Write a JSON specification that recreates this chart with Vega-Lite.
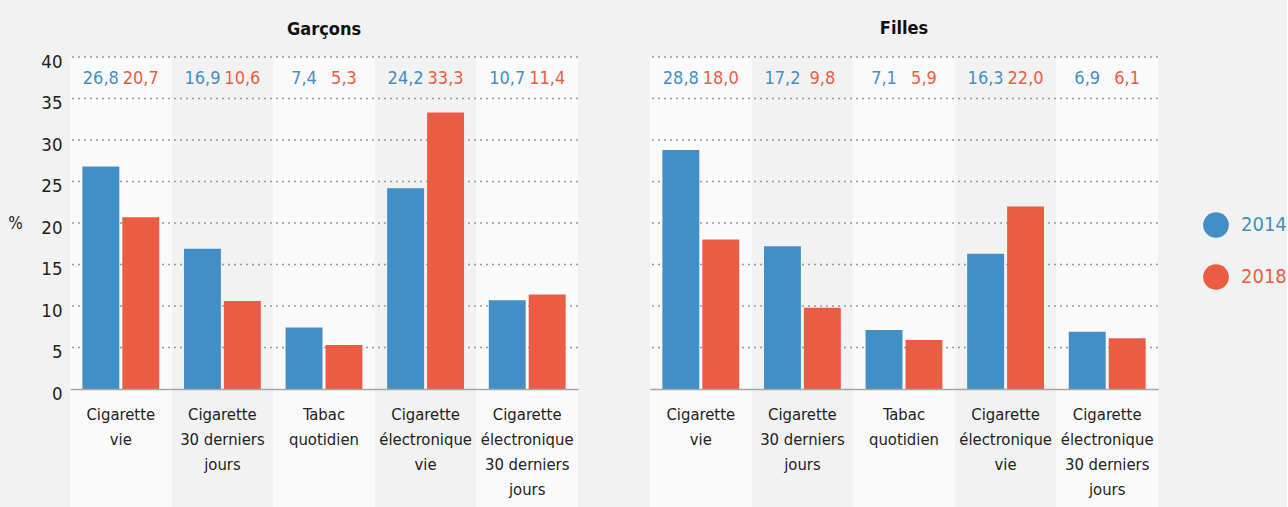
{
  "$schema": "https://vega.github.io/schema/vega-lite/v6.json",
  "background": "#f2f2f2",
  "padding": {"left": 7, "top": 20, "right": 0, "bottom": 0},
  "spacing": 70,
  "config": {
    "locale": {"number": {"decimal": ",", "thousands": " ", "grouping": [3], "currency": ["", " €"]}},
    "font": "Liberation Sans Narrow, DejaVu Sans Condensed, Roboto Condensed, Roboto, sans-serif",
    "view": {"stroke": null},
    "title": {"fontSize": 18, "fontWeight": "bold", "color": "#111111", "offset": 18, "anchor": "middle", "frame": "group"},
    "axisX": {"labelAngle": 0, "labelFontSize": 16.5, "labelColor": "#222222", "labelLineHeight": 25, "labelPadding": 17, "labelBaseline": "top", "ticks": false, "domainColor": "#a6a6a6", "domainWidth": 1.5, "grid": false, "zindex": 1, "labelLimit": 300},
    "axisY": {"labelFontSize": 18.5, "labelColor": "#222222", "ticks": false, "domain": false, "grid": false, "labelPadding": 8, "labelOffset": 4, "titleAngle": 0, "titleFontSize": 17, "titleFontWeight": "normal", "titleColor": "#222222", "titleX": -55, "titleY": 166, "titleAlign": "center", "titleBaseline": "middle"}
  },
  "datasets": {
    "taux": [
      {"sexe": "Garçons", "categorie": "Cigarette vie", "annee": "2014", "valeur": 26.8},
      {"sexe": "Garçons", "categorie": "Cigarette vie", "annee": "2018", "valeur": 20.7},
      {"sexe": "Garçons", "categorie": "Cigarette 30 derniers jours", "annee": "2014", "valeur": 16.9},
      {"sexe": "Garçons", "categorie": "Cigarette 30 derniers jours", "annee": "2018", "valeur": 10.6},
      {"sexe": "Garçons", "categorie": "Tabac quotidien", "annee": "2014", "valeur": 7.4},
      {"sexe": "Garçons", "categorie": "Tabac quotidien", "annee": "2018", "valeur": 5.3},
      {"sexe": "Garçons", "categorie": "Cigarette électronique vie", "annee": "2014", "valeur": 24.2},
      {"sexe": "Garçons", "categorie": "Cigarette électronique vie", "annee": "2018", "valeur": 33.3},
      {"sexe": "Garçons", "categorie": "Cigarette électronique 30 derniers jours", "annee": "2014", "valeur": 10.7},
      {"sexe": "Garçons", "categorie": "Cigarette électronique 30 derniers jours", "annee": "2018", "valeur": 11.4},
      {"sexe": "Filles", "categorie": "Cigarette vie", "annee": "2014", "valeur": 28.8},
      {"sexe": "Filles", "categorie": "Cigarette vie", "annee": "2018", "valeur": 18.0},
      {"sexe": "Filles", "categorie": "Cigarette 30 derniers jours", "annee": "2014", "valeur": 17.2},
      {"sexe": "Filles", "categorie": "Cigarette 30 derniers jours", "annee": "2018", "valeur": 9.8},
      {"sexe": "Filles", "categorie": "Tabac quotidien", "annee": "2014", "valeur": 7.1},
      {"sexe": "Filles", "categorie": "Tabac quotidien", "annee": "2018", "valeur": 5.9},
      {"sexe": "Filles", "categorie": "Cigarette électronique vie", "annee": "2014", "valeur": 16.3},
      {"sexe": "Filles", "categorie": "Cigarette électronique vie", "annee": "2018", "valeur": 22.0},
      {"sexe": "Filles", "categorie": "Cigarette électronique 30 derniers jours", "annee": "2014", "valeur": 6.9},
      {"sexe": "Filles", "categorie": "Cigarette électronique 30 derniers jours", "annee": "2018", "valeur": 6.1}
    ],
    "grille": [{"v": 5}, {"v": 10}, {"v": 15}, {"v": 20}, {"v": 25}, {"v": 30}, {"v": 35}, {"v": 40}]
  },
  "hconcat": [
    {
      "title": {"text": "Garçons", "offset": 13},
      "width": 508,
      "height": 332,
      "layer": [
        {
          "data": {"name": "taux"},
          "transform": [{"filter": "datum.sexe == 'Garçons'"}, {"filter": {"field": "categorie", "oneOf": ["Cigarette vie", "Tabac quotidien", "Cigarette électronique 30 derniers jours"]}}],
          "mark": {"type": "rect", "fill": "#fafafa"},
          "encoding": {
            "x": {"field": "categorie", "type": "nominal", "scale": {"domain": ["Cigarette vie", "Cigarette 30 derniers jours", "Tabac quotidien", "Cigarette électronique vie", "Cigarette électronique 30 derniers jours"], "paddingInner": 0, "paddingOuter": 0}, "axis": {"title": null, "zindex": 1, "labelExpr": "split(replace(replace(replace(replace(datum.label, 'Cigarette ', 'Cigarette|'), 'électronique ', 'électronique|'), ' jours', '|jours'), 'Tabac ', 'Tabac|'), '|')"}},
            "y": {"datum": 40, "type": "quantitative", "scale": {"domain": [0, 40], "nice": false}, "axis": {"title": "%"}},
            "y2": {"datum": -14.5}
          }
        },
        {
          "data": {"name": "grille"},
          "mark": {"type": "rule", "stroke": "#9a9a9a", "strokeDash": [2, 4], "strokeWidth": 1.3},
          "encoding": {"y": {"field": "v", "type": "quantitative", "axis": {"title": "%"}}}
        },
        {
          "data": {"name": "taux"},
          "transform": [{"filter": "datum.sexe == 'Garçons'"}],
          "mark": {"type": "bar"},
          "encoding": {
            "x": {"field": "categorie", "type": "nominal", "axis": {"title": null, "zindex": 1}},
            "xOffset": {"field": "annee", "type": "nominal", "scale": {"paddingInner": 0.075, "paddingOuter": 0.31}},
            "y": {"field": "valeur", "type": "quantitative", "axis": {"title": "%"}},
            "color": {"field": "annee", "type": "nominal", "scale": {"domain": ["2014", "2018"], "range": ["#428fc7", "#ea5d43"]}, "legend": {"orient": "none", "legendX": 1133, "legendY": 155, "title": null, "symbolType": "circle", "symbolSize": 660, "symbolStrokeWidth": 0, "labelFontSize": 20, "rowPadding": 26, "labelOffset": 12, "labelColor": {"expr": "datum.label == '2014' ? '#428fc7' : '#ea5d43'"}}}
          }
        },
        {
          "data": {"name": "taux"},
          "transform": [{"filter": "datum.sexe == 'Garçons'"}],
          "mark": {"type": "text", "fontSize": 18, "baseline": "middle"},
          "encoding": {
            "x": {"field": "categorie", "type": "nominal", "axis": {"title": null, "zindex": 1}},
            "xOffset": {"field": "annee", "type": "nominal"},
            "y": {"datum": 37.3, "type": "quantitative"},
            "text": {"field": "valeur", "type": "quantitative", "format": ".1f"},
            "color": {"field": "annee", "type": "nominal"}
          }
        }
      ]
    },
    {
      "title": {"text": "Filles", "offset": 18},
      "width": 508,
      "height": 332,
      "layer": [
        {
          "data": {"name": "taux"},
          "transform": [{"filter": "datum.sexe == 'Filles'"}, {"filter": {"field": "categorie", "oneOf": ["Cigarette vie", "Tabac quotidien", "Cigarette électronique 30 derniers jours"]}}],
          "mark": {"type": "rect", "fill": "#fafafa"},
          "encoding": {
            "x": {"field": "categorie", "type": "nominal", "scale": {"domain": ["Cigarette vie", "Cigarette 30 derniers jours", "Tabac quotidien", "Cigarette électronique vie", "Cigarette électronique 30 derniers jours"], "paddingInner": 0, "paddingOuter": 0}, "axis": {"title": null, "zindex": 1, "labelExpr": "split(replace(replace(replace(replace(datum.label, 'Cigarette ', 'Cigarette|'), 'électronique ', 'électronique|'), ' jours', '|jours'), 'Tabac ', 'Tabac|'), '|')"}},
            "y": {"datum": 40, "type": "quantitative", "scale": {"domain": [0, 40], "nice": false}, "axis": null},
            "y2": {"datum": -14.5}
          }
        },
        {
          "data": {"name": "grille"},
          "mark": {"type": "rule", "stroke": "#9a9a9a", "strokeDash": [2, 4], "strokeWidth": 1.3},
          "encoding": {"y": {"field": "v", "type": "quantitative", "axis": null}}
        },
        {
          "data": {"name": "taux"},
          "transform": [{"filter": "datum.sexe == 'Filles'"}],
          "mark": {"type": "bar"},
          "encoding": {
            "x": {"field": "categorie", "type": "nominal", "axis": {"title": null, "zindex": 1}},
            "xOffset": {"field": "annee", "type": "nominal", "scale": {"paddingInner": 0.075, "paddingOuter": 0.31}},
            "y": {"field": "valeur", "type": "quantitative", "axis": null},
            "color": {"field": "annee", "type": "nominal"}
          }
        },
        {
          "data": {"name": "taux"},
          "transform": [{"filter": "datum.sexe == 'Filles'"}],
          "mark": {"type": "text", "fontSize": 18, "baseline": "middle"},
          "encoding": {
            "x": {"field": "categorie", "type": "nominal", "axis": {"title": null, "zindex": 1}},
            "xOffset": {"field": "annee", "type": "nominal"},
            "y": {"datum": 37.3, "type": "quantitative"},
            "text": {"field": "valeur", "type": "quantitative", "format": ".1f"},
            "color": {"field": "annee", "type": "nominal"}
          }
        }
      ]
    }
  ]
}
